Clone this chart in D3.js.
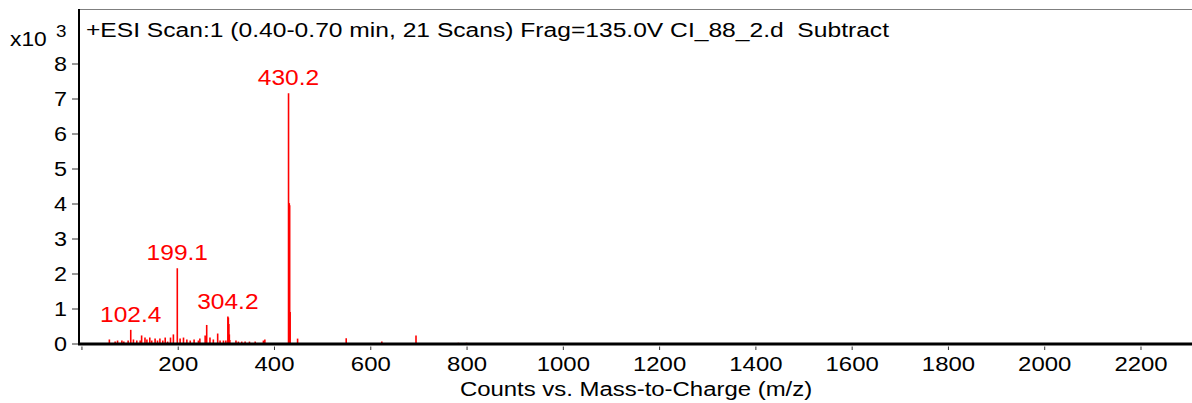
<!DOCTYPE html>
<html><head><meta charset="utf-8">
<script src="https://cdn.jsdelivr.net/npm/d3@7"></script>
<style>
html,body{margin:0;padding:0;background:#fff;}
svg{display:block;font-family:"Liberation Sans",Arial,sans-serif;}
text{white-space:pre;}
</style></head>
<body><svg id="c" width="1192" height="403"></svg>
<script>
// m/z values and intensities (counts) of spectrum peaks
const mz = [58,70,75,84,88,97,102.4,108,115,122,125,132,136,142,146,153,158,163,169,174,179,185,191,199.1,205,212,219,226,234,243,246,257,260.2,267,274,283,288,295,300,304.2,305.2,306.2,307.2,308.2,321,326,333,340,349,361,378,381,430.2,431.7,432.5,433.5,449,550,572,624,695,783,800];
const counts = [115,55,85,85,55,85,390,115,85,85,230,170,115,170,85,140,85,140,85,170,55,170,260,2150,140,170,115,85,115,85,140,230,530,170,115,285,85,85,85,770,740,560,260,100,85,55,55,55,55,55,85,115,7150,4010,3950,900,140,150,15,60,230,20,20];
const labelledPeaks = ["102.4","199.1","304.2","430.2"];
const xTicks = [0,200,400,600,800,1000,1200,1400,1600,1800,2000,2200];
const yTicks = [0,1,2,3,4,5,6,7,8];
const title = "+ESI Scan:1 (0.40-0.70 min, 21 Scans) Frag=135.0V CI_88_2.d  Subtract";
const xTitle = "Counts vs. Mass-to-Charge (m/z)";

const SX = 1.14;
const svg = d3.select("#c");
const x = d3.scaleLinear().domain([-3, 2307]).range([80, 1192]);
const y = d3.scaleLinear().domain([0, 9.543]).range([343.5, 9.5]);

function stext(xp, yp, str, size, anchor, color, sx){
  const g = svg.append("g").attr("transform", `translate(${xp},${yp}) scale(${sx||SX},1)`);
  g.append("text").attr("text-anchor", anchor||"start").attr("font-size", size)
    .attr("fill", color||"#000").text(str);
  return g;
}

// frame: top gray line
svg.append("line").attr("x1",79).attr("x2",1192).attr("y1",9.5).attr("y2",9.5)
  .attr("stroke","#7f7f7f").attr("stroke-width",1.2);

// peaks
const data = mz.map((m,i)=>({mz:m, c:counts[i]}));
svg.append("g").selectAll("line").data(data).join("line")
  .attr("x1", d=>x(d.mz)).attr("x2", d=>x(d.mz))
  .attr("y1", y(0)).attr("y2", d=>y(d.c/1000))
  .attr("stroke","#ff0000").attr("stroke-width",1.6);

// x axis
const xa = svg.append("g").attr("transform","translate(0,345)")
  .call(d3.axisBottom(x).tickValues(xTicks).tickSize(5).tickPadding(12)
    .tickFormat(d=> d===0 ? "" : d));
xa.select(".domain").remove();
xa.selectAll(".tick line").attr("stroke","#333").attr("stroke-width",1).attr("y1",1.5).attr("y2",5);
xa.selectAll(".tick text").attr("font-size",21).attr("font-family","Liberation Sans, Arial")
  .attr("fill","#000").attr("transform",`scale(${SX},1)`).attr("dy",null).attr("y",26);

// y axis
const ya = svg.append("g").attr("transform","translate(79,0)")
  .call(d3.axisLeft(y).tickValues(yTicks).tickSize(7).tickPadding(5));
ya.select(".domain").remove();
ya.selectAll(".tick line").attr("stroke","#333").attr("stroke-width",1);
ya.selectAll(".tick text").attr("font-size",20.5).attr("font-family","Liberation Sans, Arial")
  .attr("fill","#000").attr("x",-10.5).attr("transform",`scale(${SX},1)`);

// axes lines
svg.append("line").attr("x1",79).attr("x2",79).attr("y1",9).attr("y2",345)
  .attr("stroke","#000").attr("stroke-width",2);
svg.append("line").attr("x1",78).attr("x2",1192).attr("y1",344).attr("y2",344)
  .attr("stroke","#000").attr("stroke-width",2.8);

// exponent label
stext(10, 46, "x10", 20, "start");
stext(56, 37, "3", 16.5, "start");

// title
svg.append("text").attr("x",86).attr("y",37).attr("font-size",19.5)
  .attr("textLength",803).attr("lengthAdjust","spacingAndGlyphs").text(title);

// peak labels
labelledPeaks.forEach(l=>{
  const i = mz.indexOf(+l);
  const top = y(counts[i]/1000);
  stext(x(mz[i]), top-8, l, 21.5, "middle", "#ff0000");
});

// x title
stext(636, 396, xTitle, 21, "middle");
</script></body></html>
